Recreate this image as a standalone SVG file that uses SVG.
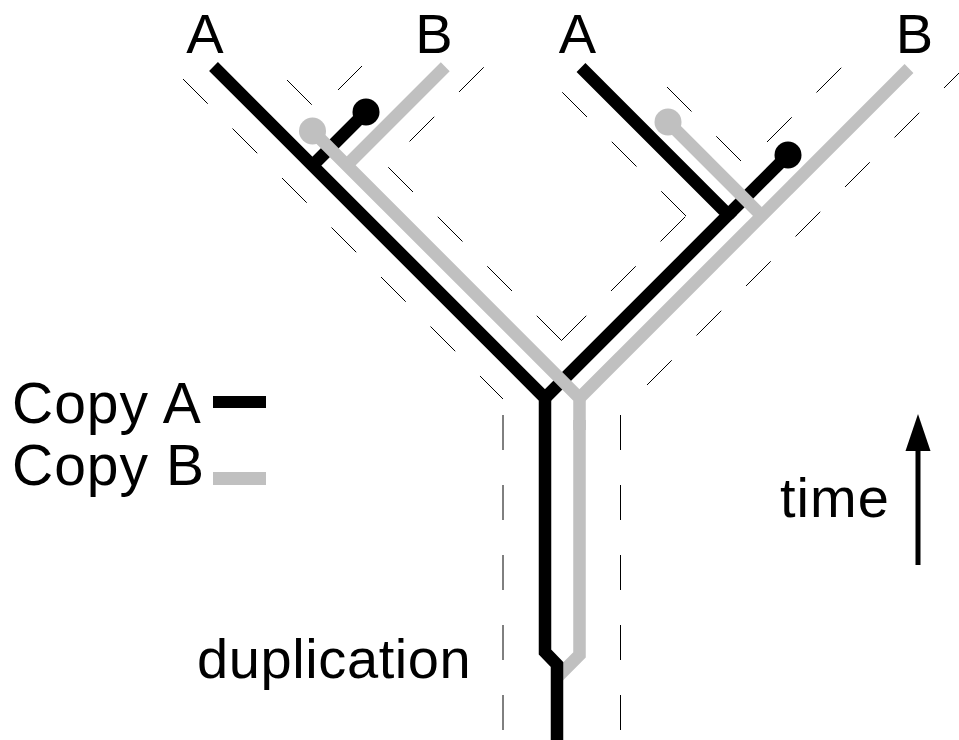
<svg xmlns="http://www.w3.org/2000/svg" width="959" height="740" viewBox="0 0 959 740">
<style>
.dash{stroke:#000;stroke-width:1;stroke-dasharray:35 35;fill:none}
.ga{stroke:#000;stroke-width:12.5;fill:none;stroke-linecap:butt;stroke-linejoin:miter}
.gb{stroke:#c0c0c0;stroke-width:12.5;fill:none;stroke-linecap:butt;stroke-linejoin:miter}
.lbl{font-family:"Liberation Sans",Arial,sans-serif;font-size:56px;fill:#000}
</style>
<rect width="959" height="740" fill="#fff"/>
<g id="species-tree">
<line class="dash" x1="183" y1="79" x2="503" y2="399"/>
<line class="dash" x1="503" y1="415" x2="503" y2="740"/>
<line class="dash" x1="620.5" y1="415" x2="620.5" y2="740"/>
<line class="dash" x1="647" y1="385" x2="970" y2="62"/>
<line class="dash" x1="561.5" y1="340.5" x2="386" y2="165"/>
<line class="dash" x1="409.5" y1="141.5" x2="490" y2="61"/>
<line class="dash" x1="561.5" y1="340.5" x2="686" y2="216"/>
<line class="dash" x1="686" y1="216" x2="562" y2="92"/>
<line class="dash" x1="741" y1="161" x2="667" y2="87"/>
<line class="dash" x1="767" y1="142" x2="841.5" y2="67.5"/>
<line class="dash" x1="287" y1="80" x2="312" y2="105"/>
<line class="dash" x1="338" y1="90" x2="362" y2="66"/>
</g>
<g id="gene-lines">
<path id="copyB-trunk" class="gb" d="M557 677.5 L579.5 655 L579.5 420"/>
<g id="copyA">
<path class="ga" d="M213.5 66.5 L545 398 L545 652 L557 664.5 L557 740"/>
<path class="ga" d="M581 67.5 L728.25 214.75 L545 398"/>
<path class="ga" d="M788 155 L728.25 214.75"/>
<path class="ga" d="M366 112 L312.5 165.5"/>
<circle cx="366" cy="112" r="13.5" fill="#000"/>
<circle cx="788" cy="155" r="13.5" fill="#000"/>
</g>
<g id="copyB">
<path class="gb" d="M579.5 430 L579.5 398 L312.5 131"/>
<path class="gb" d="M579.5 398 L909 68.5"/>
<path class="gb" d="M346.75 165.25 L445.25 66.75"/>
<path class="gb" d="M668 122 L761.75 215.75"/>
<circle cx="312.5" cy="131" r="13.5" fill="#c0c0c0"/>
<circle cx="668" cy="122" r="13.5" fill="#c0c0c0"/>
</g>
</g>
<g id="leaf-labels">
<text class="lbl" x="205" y="53" text-anchor="middle">A</text>
<text class="lbl" x="434" y="53" text-anchor="middle">B</text>
<text class="lbl" x="577.5" y="53" text-anchor="middle">A</text>
<text class="lbl" x="914.5" y="53" text-anchor="middle">B</text>
</g>
<g id="legend">
<text class="lbl" x="12" y="423" style="font-size:57px;letter-spacing:1px">Copy A</text>
<rect x="213" y="396" width="53" height="12" fill="#000"/>
<text class="lbl" x="12" y="485" style="font-size:57px;letter-spacing:1px">Copy B</text>
<rect x="213" y="472" width="53" height="13" fill="#c0c0c0"/>
</g>
<g id="time-arrow">
<text class="lbl" x="780" y="517" style="letter-spacing:1px">time</text>
<line x1="918" y1="565" x2="918" y2="445" stroke="#000" stroke-width="5"/>
<polygon points="918,414 905.5,451 930.5,451" fill="#000"/>
</g>
<g id="duplication-label">
<text class="lbl" x="197" y="678" style="letter-spacing:0.6px">duplication</text>
</g>
</svg>
